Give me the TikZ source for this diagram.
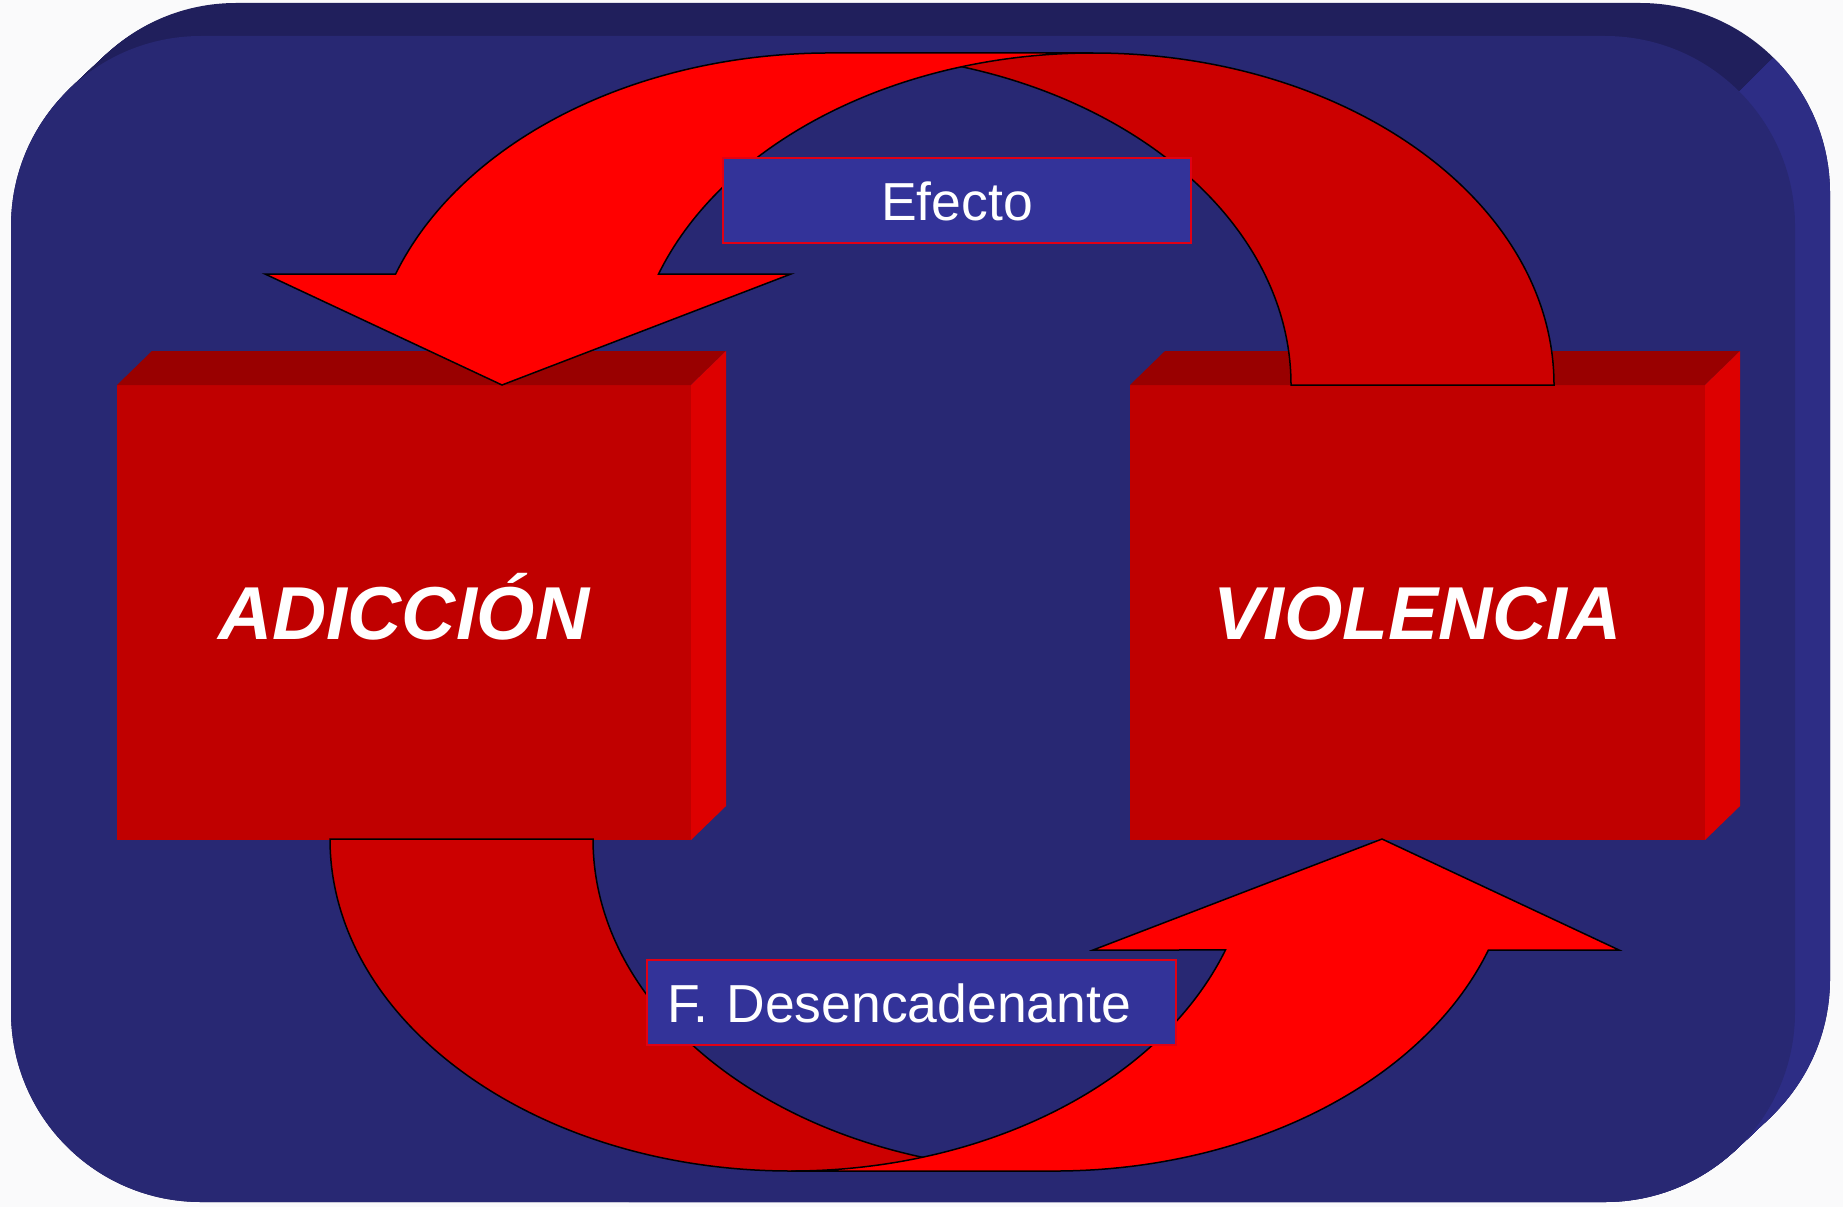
\documentclass[tikz,border=0pt]{standalone}
\usepackage{fontspec}
\setmainfont{Liberation Sans}
\definecolor{pagebg}{RGB}{250,250,251}
\definecolor{mainblue}{RGB}{40,40,115}
\definecolor{topblue}{RGB}{32,31,92}
\definecolor{rightblue}{RGB}{45,45,133}
\definecolor{labelblue}{RGB}{51,51,153}
\definecolor{labelred}{RGB}{225,0,20}
\definecolor{boxfront}{RGB}{192,0,0}
\definecolor{boxtop}{RGB}{153,0,0}
\definecolor{boxside}{RGB}{221,0,0}
\definecolor{brightred}{RGB}{255,0,0}
\definecolor{darkred}{RGB}{204,0,0}
\tikzset{
  frontface/.style={fill=boxfront, inner sep=0pt, outer sep=0pt, text=white,
    font=\fontsize{75}{80}\selectfont\bfseries\itshape, text height=54pt, text depth=0pt},
  topface/.style={fill=boxtop},
  sideface/.style={fill=boxside},
  lab/.style={fill=labelblue, draw=labelred, line width=2.5pt, text=white,
    font=\fontsize{53.5}{60}\selectfont, minimum height=85pt, inner sep=0pt, outer sep=0pt,
    text height=39pt, text depth=0pt},
  tailband/.style={fill=darkred, draw=black, line width=1.5pt, line join=miter},
  headband/.style={fill=brightred, draw=black, line width=1.5pt, line join=miter},
  ell/.style={x radius=461, y radius=332}
}
\begin{document}
\begin{tikzpicture}[x=1pt,y=-1pt]
\useasboundingbox (0,0) rectangle (1843,1207);
\fill[pagebg] (0,0) rectangle (1843,1207);
% extruded rounded background
\foreach \i in {0,...,35} {
  \fill[topblue, rounded corners=190pt] ({11+\i},{36-0.943*\i}) rectangle ({1795+\i},{1202-0.943*\i});
}
\begin{scope}
  \clip (1831,0) -- (1950,0) -- (1950,1300) -- (531,1300) -- cycle;
  \foreach \i in {0,...,35} {
    \fill[rightblue, rounded corners=190pt] ({11+\i},{36-0.943*\i}) rectangle ({1795+\i},{1202-0.943*\i});
  }
\end{scope}
\fill[mainblue, rounded corners=190pt] (11,36) rectangle (1795,1202);

% 3D boxes
\node[frontface, minimum width=574pt, minimum height=455pt] (adic) at (404,612.5) {ADICCIÓN};
\fill[topface] (adic.north west) -- ++(35,-34) -- ++(574,0) -- (adic.north east) -- cycle;
\fill[sideface] (adic.north east) -- ++(35,-34) -- ++(0,455) -- (adic.south east) -- cycle;

\node[frontface, minimum width=575pt, minimum height=455pt] (viol) at (1417.5,612.5) {VIOLENCIA};
\fill[topface] (viol.north west) -- ++(35,-34) -- ++(575,0) -- (viol.north east) -- cycle;
\fill[sideface] (viol.north east) -- ++(35,-34) -- ++(0,455) -- (viol.south east) -- cycle;

% top curved arrow (VIOLENCIA -> ADICCION)
\draw[tailband] (1291,385) -- (1554,385) arc[start angle=0, end angle=-90, ell]
  -- (830,53) arc[start angle=-90, end angle=0, ell] -- cycle;
\draw[headband] (502,385) -- (265,274) -- (395.6,274)
  arc[start angle=199.53, end angle=270, ell] -- (1093,53)
  arc[start angle=270, end angle=199.53, ell] -- (791,274) -- cycle;

% bottom curved arrow (ADICCION -> VIOLENCIA), point symmetric
\begin{scope}[rotate around={180:(942,612)}]
\draw[tailband] (1291,385) -- (1554,385) arc[start angle=0, end angle=-90, ell]
  -- (830,53) arc[start angle=-90, end angle=0, ell] -- cycle;
\draw[headband] (502,385) -- (265,274) -- (395.6,274)
  arc[start angle=199.53, end angle=270, ell] -- (1093,53)
  arc[start angle=270, end angle=199.53, ell] -- (791,274) -- cycle;
\end{scope}

% labels
\node[lab, minimum width=468pt] (efecto) at (957,200.7) {Efecto};
\node[lab, text width=489pt, align=left, inner xsep=20pt] (desenc) at (911.5,1002.5) {F. Desencadenante};
\end{tikzpicture}
\end{document}
